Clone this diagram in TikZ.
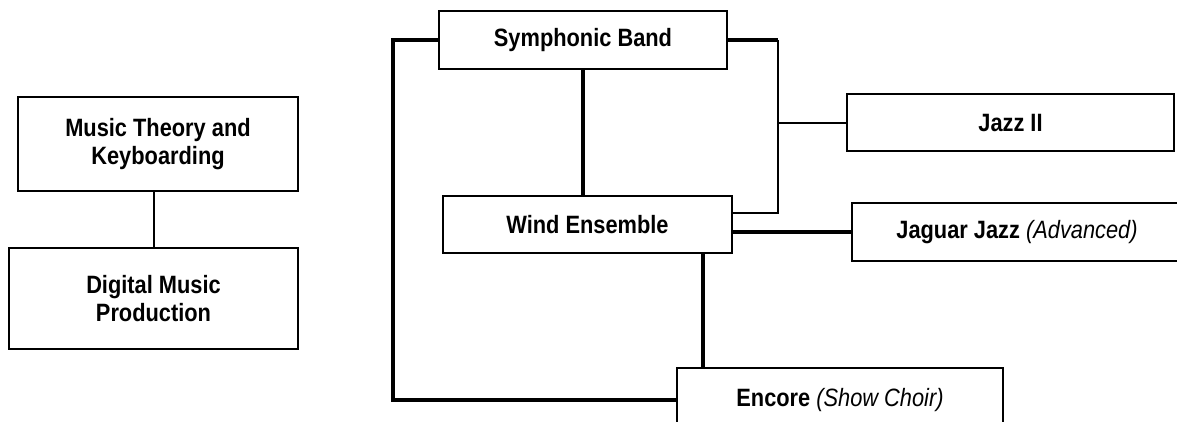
\documentclass[tikz,border=0pt]{standalone}
\usepackage{fontspec}
\setmainfont{Liberation Sans}[FakeStretch=0.87]
\usetikzlibrary{calc}
\begin{document}
\begin{tikzpicture}[x=0.75pt,y=-0.75pt,
	every node/.style={draw,line width=1.5pt,inner sep=0,align=center,
	font=\fontsize{18.8}{20.6}\selectfont\bfseries},
	wh/.style 2 args={minimum width=#1*0.75pt,minimum height=#2*0.75pt},
	heavy/.style={line width=2.4pt},
	light/.style={line width=1.5pt}]
\useasboundingbox (0,0) rectangle (1177,421);
\node[wh={280}{94}] (theory) at (158,144) {Music Theory and\\Keyboarding};
\node[wh={289}{101}] (digital) at (153.5,298.5) {Digital Music\\Production};
\node[wh={288}{58}] (sym) at (583,40) {Symphonic Band};
\node[wh={289}{57}] (wind) at (587.5,224.5) {Wind Ensemble};
\node[wh={327}{57}] (jazz) at (1010.5,122.5) {Jazz II};
\node[wh={330}{58}] (jaguar) at (1017,232) {Jaguar Jazz {\mdseries\itshape(Advanced)}};
\node[wh={326}{64}] (encore) at (840,400) {Encore {\mdseries\itshape(Show Choir)}};
\coordinate (lft) at (393,400);
\coordinate (rgt) at (778,213);
\draw[light] (digital.north) -- (digital.north |- theory.south);
\draw[heavy] (sym.south) -- (sym.south |- wind.north);
\draw[heavy] (sym.west) -| (lft) -- (encore.west);
\draw[heavy] (sym.east) -- (sym.east -| rgt);
\draw[light] (sym.east -| rgt) -- (rgt) -- ($(wind.east)+(0,-11.5)$);
\draw[light] (jazz.west) -- (jazz.west -| rgt);
\draw[heavy] (jaguar.west) -- (jaguar.west -| wind.east);
\draw[heavy] ($(wind.south)+(115.5,0)$) coordinate (drop) -- (drop |- encore.north);
\end{tikzpicture}
\end{document}
